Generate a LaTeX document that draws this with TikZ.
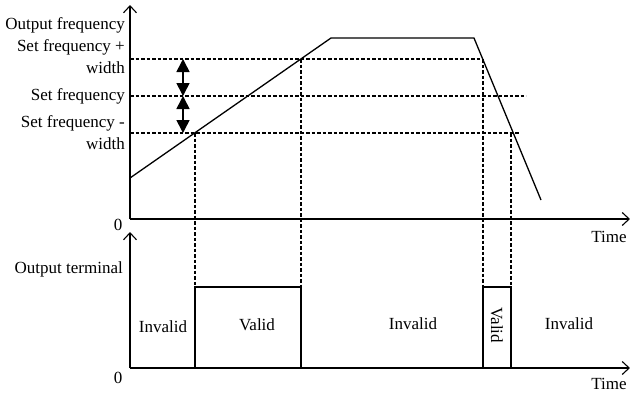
\documentclass[tikz,border=0pt]{standalone}
\usepackage{fontspec}
\setmainfont{Liberation Serif}
\usetikzlibrary{arrows.meta}
\begin{document}
\begin{tikzpicture}[x=1pt,y=-1pt,
  font=\fontsize{17}{20}\selectfont,
  axis/.style={line width=1.1pt,-{Straight Barb[length=7pt,width=13pt,line width=1.1pt]}},
  curve/.style={line width=1.3pt},
  guide/.style={line width=1.1pt,dash pattern=on 3.5pt off 2pt},
  sig/.style={line width=1.3pt},
  dbl/.style={line width=1.6pt,{Triangle[length=13pt,width=13pt]}-{Triangle[length=13pt,width=13pt]}},
  lbl/.style={anchor=east,inner sep=0pt},
  txt/.style={inner sep=0pt}]
\useasboundingbox (0,0) rectangle (630,394);
% coordinates
\coordinate (O1) at (130,219);
\coordinate (Y1) at (130,5);
\coordinate (X1) at (630,219);
\coordinate (O2) at (130,368);
\coordinate (Y2) at (130,232);
\coordinate (X2) at (630,368);
% curve points
\coordinate (c0) at (130,178);
\coordinate (c1) at (331,38);
\coordinate (c2) at (474,38);
\coordinate (c3) at (541,200);
% crossing points
\coordinate (pA) at (195,133);
\coordinate (pB) at (301,59);
\coordinate (pC) at (483,59);
\coordinate (pD) at (511,133);
% guide ends
\coordinate (g1s) at (130,59);
\coordinate (g2s) at (130,96);
\coordinate (g2e) at (526,96);
\coordinate (g3s) at (130,133);
\coordinate (g3e) at (519,133);
% boxes
\coordinate (vA) at (195,287);
\coordinate (vB) at (301,287);
\coordinate (vC) at (483,287);
\coordinate (vD) at (511,287);
\coordinate (bA) at (195,368);
\coordinate (bB) at (301,368);
\coordinate (bC) at (483,368);
\coordinate (bD) at (511,368);
% arrows
\coordinate (a1) at (183,59);
\coordinate (a2) at (183,96);
\coordinate (a3) at (183,133);

% guides
\draw[guide] (g1s) -- (pC);
\draw[guide] (g2s) -- (g2e);
\draw[guide] (g3s) -- (g3e);
\draw[guide] (pA) -- (vA);
\draw[guide] (pB) -- (vB);
\draw[guide] (pC) -- (vC);
\draw[guide] (pD) -- (vD);

% axes
\draw[axis] (O1) -- (Y1);
\draw[axis] (O1) -- (X1);
\draw[axis] (O2) -- (Y2);
\draw[axis] (O2) -- (X2);

% frequency curve
\draw[curve] (c0) -- (c1) -- (c2) -- (c3);

% double arrows
\draw[dbl] (a1) -- (a2);
\draw[dbl] (a2) -- (a3);

% output boxes
\draw[sig] (bA) -- (vA) -- (vB) -- (bB);
\draw[sig] (bC) -- (vC) -- (vD) -- (bD);

% labels
\node[lbl] (lof) at (125,25) {Output frequency};
\node[lbl] (lsp1) at (125,47) {Set frequency +};
\node[lbl] (lsp2) at (125,68) {width};
\node[lbl] (lsf) at (125,96) {Set frequency};
\node[lbl] (lsm1) at (125,123) {Set frequency -};
\node[lbl] (lsm2) at (125,144) {width};
\node[lbl] (lot) at (123,269) {Output terminal};
\node[txt] (z1) at (118,225) {0};
\node[txt] (z2) at (118,378) {0};
\node[txt] (t1) at (609,237) {Time};
\node[txt] (t2) at (609,384) {Time};
\node[txt] (i1) at (163,327) {Invalid};
\node[txt] (v1) at (257,325) {Valid};
\node[txt] (i2) at (413,324) {Invalid};
\node[txt,rotate=-90] (v2) at (497,325) {Valid};
\node[txt] (i3) at (569,324) {Invalid};
\end{tikzpicture}
\end{document}
